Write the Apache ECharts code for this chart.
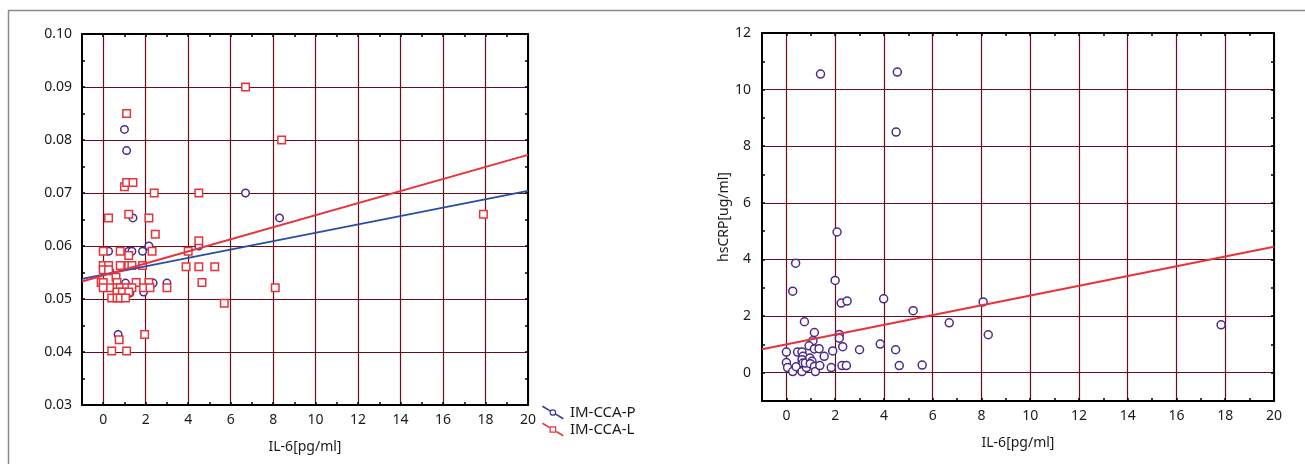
<!DOCTYPE html>
<html>
<head>
<meta charset="utf-8">
<script src="https://cdn.jsdelivr.net/npm/echarts@6/dist/echarts.min.js"></script>
<style>
  html, body { margin: 0; padding: 0; background: #fff; }
  #chart { width: 1305px; height: 464px; }
</style>
</head>
<body>
<div id="chart"></div>
<script>
// IM-CCA vs IL-6 (left chart)
var ccaP = [
    [1.0, 0.082], [1.1, 0.078], [6.7, 0.070], [1.4, 0.0653], [8.3, 0.0653],
    [2.15, 0.060], [4.5, 0.060], [0.25, 0.059], [1.2, 0.059], [1.35, 0.059],
    [1.85, 0.059], [1.05, 0.053], [2.35, 0.053], [3.0, 0.053], [1.25, 0.0511],
    [0.7, 0.0433], [0.3, 0.0553], [0.9, 0.052], [1.9, 0.0513], [0.05, 0.0521]
];
var ccaL = [
    [6.7, 0.090], [1.1, 0.085], [8.4, 0.080],
    [1.0, 0.0712], [1.1, 0.072], [1.4, 0.072], [2.4, 0.070], [4.5, 0.070],
    [0.25, 0.0653], [1.2, 0.066], [2.15, 0.0653], [2.45, 0.0622], [4.5, 0.061], [17.9, 0.066],
    [0.0, 0.059], [0.8, 0.059], [2.3, 0.059], [4.0, 0.059], [1.2, 0.0582],
    [0.0, 0.0563], [0.25, 0.0563], [0.8, 0.0563], [1.2, 0.0563], [1.35, 0.0563],
    [1.85, 0.0563], [3.9, 0.0561], [4.5, 0.0561], [5.25, 0.0561],
    [0.0, 0.0555], [0.25, 0.0555], [0.6, 0.0541],
    [-0.1, 0.0531], [0.0, 0.0531], [0.65, 0.0531], [1.55, 0.0531], [2.15, 0.0531], [4.65, 0.0531],
    [0.0, 0.0521], [0.35, 0.0521], [0.65, 0.0521], [0.8, 0.0521], [1.1, 0.0521], [1.35, 0.0521],
    [1.9, 0.0521], [2.2, 0.0521], [3.0, 0.0521], [8.1, 0.0521],
    [0.65, 0.0513], [0.9, 0.0513], [1.2, 0.0513],
    [0.4, 0.0502], [0.65, 0.0502], [0.8, 0.0502], [1.05, 0.0502],
    [5.7, 0.0492], [0.75, 0.0423], [1.95, 0.0433], [0.4, 0.0402], [1.1, 0.0402]
];
var fitP = [[-1, 0.0538], [20, 0.0704]];
var fitL = [[-1, 0.0533], [20, 0.0772]];

// hsCRP vs IL-6 (right chart)
var crp = [
    [1.4, 10.55], [4.55, 10.62], [4.5, 8.5], [2.08, 4.97], [0.38, 3.87], [0.26, 2.88],
    [2.0, 3.26], [3.99, 2.61], [2.25, 2.46], [2.49, 2.53], [8.07, 2.5], [5.2, 2.19],
    [0.74, 1.8], [6.68, 1.76], [17.83, 1.69], [8.28, 1.34], [1.15, 1.42], [1.09, 1.13],
    [2.17, 1.35], [2.17, 1.22], [0.93, 0.95], [1.15, 0.84], [1.34, 0.85], [2.31, 0.92],
    [3.0, 0.81], [3.85, 1.01], [4.48, 0.81], [4.63, 0.25], [5.57, 0.27], [0, 0.73],
    [0, 0.36], [0.05, 0.18], [0.26, 0.04], [0.4, 0.21], [0.46, 0.73], [0.64, 0.73],
    [0.68, 0.58], [0.64, 0.46], [0.68, 0.34], [0.64, 0.04], [0.82, 0.18], [0.78, 0.34],
    [0.96, 0.52], [1.05, 0.4], [0.98, 0.32], [1.15, 0.22], [1.19, 0.04], [1.37, 0.25],
    [1.55, 0.58], [1.84, 0.18], [1.9, 0.77], [2.28, 0.25], [2.46, 0.25]
];
var fitCRP = [[-1, 0.83], [20, 4.45]];

var gridColor = '#6a0d18';
var none = 'rgba(0,0,0,0)';
var font = 'Noto Sans';
var txt = '#1a1a1a';

function frameAxis(extra) {
    var base = {
        type: 'value',
        axisLine: { show: true, onZero: false, lineStyle: { color: '#000', width: 2 } },
        axisTick: { show: true, inside: true, length: 3, lineStyle: { color: '#000', width: 1.5 } },
        axisLabel: { show: false },
        splitLine: { show: false }
    };
    for (var k in extra) base[k] = extra[k];
    return base;
}

function evenLabel(v) { return (v >= 0 && v % 2 === 0) ? String(v) : ''; }

var pIcon = 'path://M-0.41 0.69L6.99 5.13L7.81 3.75L0.41 -0.69Z' +
    'M13.2 6A3.2 3.2 0 1 0 6.8 6A3.2 3.2 0 1 0 13.2 6Z' +
    'M12 6A2 2 0 1 1 8 6A2 2 0 1 1 12 6Z' +
    'M12.19 8.25L19.59 12.69L20.41 11.31L13.01 6.87Z';
var lIcon = 'path://M-0.41 0.69L6.6 4.9L7.4 3.5L0.41 -0.69Z' +
    'M6.8 2.8H13.2V9.2H6.8Z' +
    'M8 4V8H12V4Z' +
    'M12.6 8.5L19.59 12.69L20.41 11.31L13.4 7.1Z';

var chart = echarts.init(document.getElementById('chart'));

chart.setOption({
    animation: false,
    backgroundColor: '#fff',
    textStyle: { fontFamily: font },
    graphic: [
        { type: 'line', shape: { x1: 8, y1: 10.5, x2: 1305, y2: 10.5 }, style: { stroke: '#8a8a8a', lineWidth: 1.5 } },
        { type: 'line', shape: { x1: 8.5, y1: 10, x2: 8.5, y2: 464 }, style: { stroke: '#8a8a8a', lineWidth: 1.5 } }
    ],
    legend: {
        orient: 'vertical',
        left: 537,
        top: 400,
        itemWidth: 24,
        itemHeight: 14,
        itemGap: 2,
        textStyle: { fontSize: 15, color: txt, fontFamily: font },
        data: [
            { name: 'IM-CCA-P', icon: pIcon, itemStyle: { color: '#3a3c9c', borderWidth: 0 } },
            { name: 'IM-CCA-L', icon: lIcon, itemStyle: { color: '#e8333a', borderWidth: 0 } }
        ]
    },
    grid: [
        { left: 82, right: 777, top: 34, bottom: 59 },
        { left: 762, right: 31, top: 33, bottom: 63 }
    ],
    xAxis: [
        frameAxis({
            gridIndex: 0, position: 'bottom', min: -1, max: 20, interval: 1,
            axisLabel: { show: true, formatter: evenLabel, color: txt, fontSize: 14, fontFamily: font, margin: 8 },
            splitLine: { show: true, lineStyle: { color: [none, gridColor], width: 1.2 } },
            name: 'IL-6[pg/ml]', nameLocation: 'middle', nameGap: 35,
            nameTextStyle: { fontSize: 14, color: txt, fontFamily: font }
        }),
        frameAxis({ gridIndex: 0, position: 'top', min: -1, max: 20, interval: 1 }),
        frameAxis({
            gridIndex: 1, position: 'bottom', min: -1, max: 20, interval: 1,
            axisLabel: { show: true, formatter: evenLabel, color: txt, fontSize: 14, fontFamily: font, margin: 8 },
            splitLine: { show: true, lineStyle: { color: [none, gridColor], width: 1.2 } },
            name: 'IL-6[pg/ml]', nameLocation: 'middle', nameGap: 35,
            nameTextStyle: { fontSize: 14, color: txt, fontFamily: font }
        }),
        frameAxis({ gridIndex: 1, position: 'top', min: -1, max: 20, interval: 1 })
    ],
    yAxis: [
        frameAxis({
            gridIndex: 0, position: 'left', min: 0.03, max: 0.10, interval: 0.005,
            axisLabel: {
                show: true, color: txt, fontSize: 14, fontFamily: font, margin: 10,
                formatter: function (v) {
                    return Math.round(v * 1000) % 10 === 0 ? v.toFixed(2) : '';
                }
            },
            splitLine: { show: true, lineStyle: { color: [gridColor, none], width: 1.2 } }
        }),
        frameAxis({ gridIndex: 0, position: 'right', min: 0.03, max: 0.10, interval: 0.005 }),
        frameAxis({
            gridIndex: 1, position: 'left', min: -1, max: 12, interval: 1,
            axisLabel: { show: true, formatter: evenLabel, color: txt, fontSize: 14, fontFamily: font, margin: 11 },
            splitLine: { show: true, lineStyle: { color: [none, gridColor], width: 1.2 } },
            name: 'hsCRP[ug/ml]', nameLocation: 'middle', nameGap: 28, nameRotate: 90,
            nameTextStyle: { fontSize: 14, color: txt, fontFamily: font }
        }),
        frameAxis({ gridIndex: 1, position: 'right', min: -1, max: 12, interval: 1 })
    ],
    series: [
        {
            name: 'IM-CCA-P', type: 'scatter', xAxisIndex: 0, yAxisIndex: 0,
            symbol: 'circle', symbolSize: 7.5, z: 3,
            itemStyle: { color: '#fff', borderColor: '#4b2a8a', borderWidth: 1.5, opacity: 1 },
            data: ccaP
        },
        {
            name: 'IM-CCA-L', type: 'scatter', xAxisIndex: 0, yAxisIndex: 0,
            symbol: 'rect', symbolSize: 7.5, z: 4,
            itemStyle: { color: '#fff', borderColor: '#e8333a', borderWidth: 1.5, opacity: 1 },
            data: ccaL
        },
        {
            name: 'fitP', type: 'line', xAxisIndex: 0, yAxisIndex: 0,
            symbol: 'none', z: 5,
            lineStyle: { color: '#2b4ea3', width: 2 },
            data: fitP
        },
        {
            name: 'fitL', type: 'line', xAxisIndex: 0, yAxisIndex: 0,
            symbol: 'none', z: 5,
            lineStyle: { color: '#e8333a', width: 2 },
            data: fitL
        },
        {
            name: 'hsCRP', type: 'scatter', xAxisIndex: 2, yAxisIndex: 2,
            symbol: 'circle', symbolSize: 8, z: 3,
            itemStyle: { color: '#fff', borderColor: '#4b2a8a', borderWidth: 1.5, opacity: 1 },
            data: crp
        },
        {
            name: 'fitCRP', type: 'line', xAxisIndex: 2, yAxisIndex: 2,
            symbol: 'none', z: 5,
            lineStyle: { color: '#e8333a', width: 2 },
            data: fitCRP
        }
    ]
});
</script>
</body>
</html>
